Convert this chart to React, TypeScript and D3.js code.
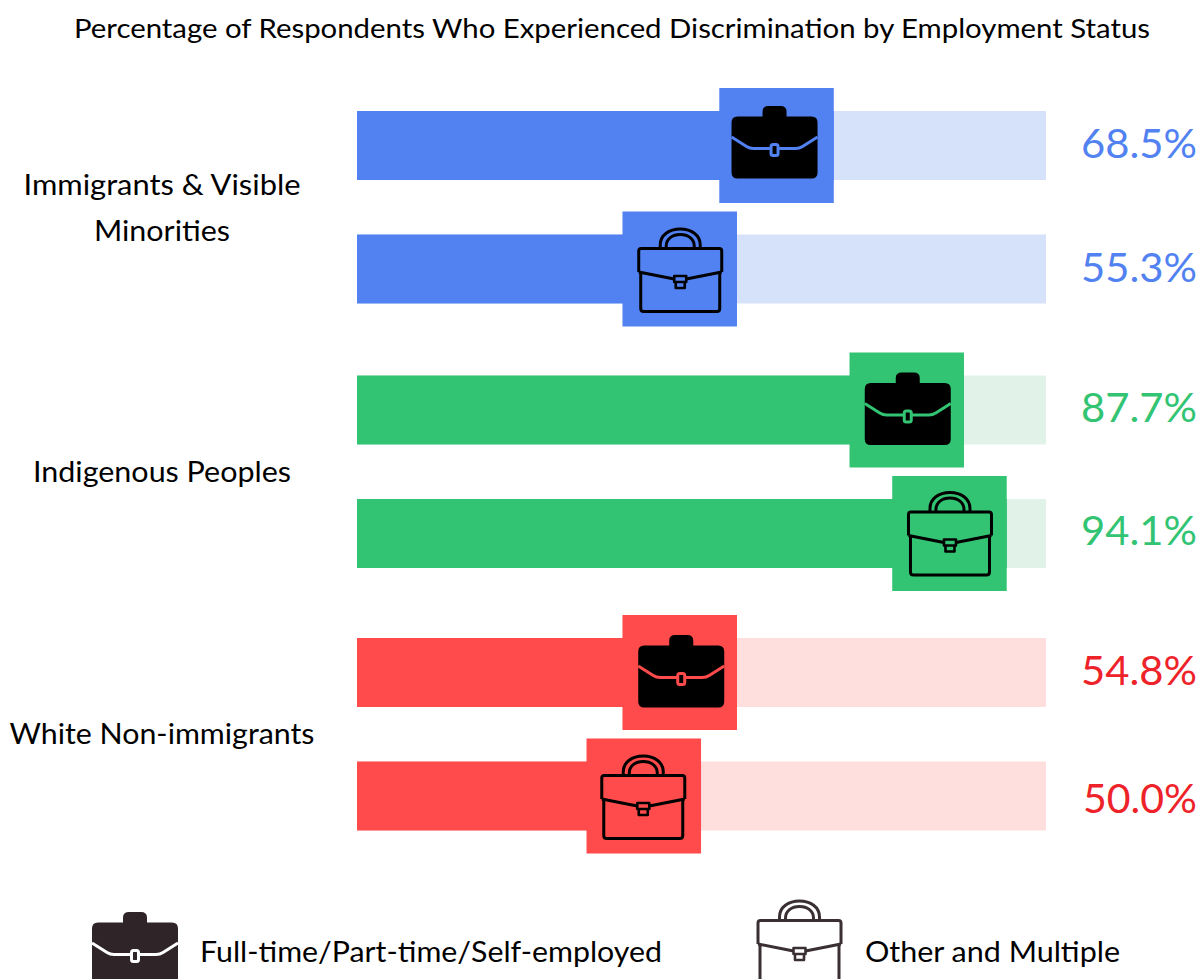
import React from 'react';
import * as d3 from 'd3';

const title = 'Percentage of Respondents Who Experienced Discrimination by Employment Status';
const groups = ['Immigrants & Visible Minorities', 'Indigenous Peoples', 'White Non-immigrants'];
const statuses = ['Full-time/Part-time/Self-employed', 'Other and Multiple'];
const immigrantValues = [68.5, 55.3];
const indigenousValues = [87.7, 94.1];
const whiteValues = [54.8, 50.0];
const seriesValues = [immigrantValues, indigenousValues, whiteValues];
// where the end of each coloured block sits on the 0-100 track
const immigrantEnds = [69.2, 55.15];
const indigenousEnds = [88.1, 94.3];
const whiteEnds = [55.15, 49.93];
const seriesEnds = [immigrantEnds, indigenousEnds, whiteEnds];
const barColors = ['#5282f1', '#33c473', '#ff4b4b'];
const trackColors = ['#d6e2fa', '#e1f3e8', '#ffdede'];
const valueColors = ['#5282f1', '#33c473', '#ee2229'];

const WIDTH = 1202;
const HEIGHT = 979;
const FONT = 'Lato, "Open Sans", sans-serif';

const x = d3.scaleLinear().domain([0, 100]).range([357, 1046]);
const groupY = d3.scaleOrdinal<string, number>().domain(groups).range([145.5, 410, 672.5]);
const rowY = d3.scaleOrdinal<string, number>().domain(statuses).range([0, 123.5]);

const BAR_H = 69;
const SQUARE_W = 114.5;
const SQUARE_H = 115;

// small per-row shifts, the icons are not quite centred in the reference
const iconDx = [[-2, 0.5], [1, 0.5], [1.5, -0.5]];
const iconDy = [[0, 0], [2, -1], [2, 0]];
const valueDy = [[12.5, 12.5], [12, 11.5], [12.5, 17]];

// filled case, origin is the middle of the square
const FilledCase = ({ cx, cy, fill, line }: any) => (
  <g transform={`translate(${cx},${cy})`}>
    <path
      fill={fill}
      d="M-12,-29 L-12,-34 Q-12,-39.5 -6,-39.5 L6,-39.5 Q12,-39.5 12,-34 L12,-29 L37,-29 Q43,-29 43,-23 L43,27 Q43,33 37,33 L-37,33 Q-43,33 -43,27 L-43,-23 Q-43,-29 -37,-29 Z"
    />
    <path fill="none" stroke={line} strokeWidth={3} d="M-43,-8.5 L-28,1 Q-25,3 -21,3 L21,3 Q25,3 28,1 L43,-8.5" />
    <rect x={-3.5} y={-1} width={7} height={11} rx={2} fill={fill} stroke={line} strokeWidth={3} />
  </g>
);

const OutlineCase = ({ cx, cy, stroke }: any) => (
  <g transform={`translate(${cx},${cy})`} fill="none" stroke={stroke} strokeWidth={3} strokeLinejoin="round">
    <path d="M-20,-21 L-20,-24 C-20,-34 -11,-40 0,-40 C11,-40 20,-34 20,-24 L20,-21" />
    <path d="M-14,-21 L-14,-23 C-14,-30 -8,-34.5 0,-34.5 C8,-34.5 14,-30 14,-23 L14,-21" />
    <path d="M-41.5,3 L-41.5,-18 Q-41.5,-20.5 -39,-20.5 L39,-20.5 Q41.5,-20.5 41.5,-18 L41.5,3" />
    <path d="M-41.5,3 L-6,10 M6,10 L41.5,3" />
    <path d="M-39.5,3.5 L-39.5,39.5 Q-39.5,42.5 -36.5,42.5 L36.5,42.5 Q39.5,42.5 39.5,39.5 L39.5,3.5" />
    <path d="M-6,7 L6,7 L6,13 L4.5,13 L4.5,19 L-4.5,19 L-4.5,13 L-6,13 Z M-4.5,13 L4.5,13" strokeWidth={2.6} />
  </g>
);

export default function App() {
  return (
    <svg
      width={WIDTH}
      height={HEIGHT}
      viewBox={`0 0 ${WIDTH} ${HEIGHT}`}
      style={{ position: 'absolute', left: 0, top: 0, display: 'block', background: '#fff' }}
      fontFamily={FONT}
    >
      <text x={612} y={38} textAnchor="middle" fontSize={27.5} fill="#000" textLength={1076} lengthAdjust="spacingAndGlyphs">
        {title}
      </text>

      {groups.map((group, i) => {
        const cy = groupY(group);
        return (
          <g key={group}>
            {statuses.map((status, j) => {
              const value = seriesValues[i][j];
              const yc = cy + rowY(status);
              const right = x(seriesEnds[i][j]);
              const cx = right - SQUARE_W / 2 + iconDx[i][j];
              const iy = yc + iconDy[i][j];
              return (
                <g key={status}>
                  <rect x={x(0)} y={yc - BAR_H / 2} width={x(100) - x(0)} height={BAR_H} fill={trackColors[i]} />
                  <rect x={x(0)} y={yc - BAR_H / 2} width={right - x(0)} height={BAR_H} fill={barColors[i]} />
                  <rect x={right - SQUARE_W} y={yc - SQUARE_H / 2} width={SQUARE_W} height={SQUARE_H} fill={barColors[i]} />
                  {j === 0 ? (
                    <FilledCase cx={cx} cy={iy} fill="#000" line={barColors[i]} />
                  ) : (
                    <OutlineCase cx={cx} cy={iy} stroke="#000" />
                  )}
                  <text
                    x={1197}
                    y={yc + valueDy[i][j]}
                    textAnchor="end"
                    fontSize={41}
                    fill={valueColors[i]}
                    textLength={i === 2 && j === 1 ? 114 : 116}
                    lengthAdjust="spacingAndGlyphs"
                  >
                    {d3.format('.1f')(value)}%
                  </text>
                </g>
              );
            })}
          </g>
        );
      })}

      <g fontSize={29.5} fill="#000" textAnchor="middle">
        <text x={162} y={195} textLength={277} lengthAdjust="spacingAndGlyphs">Immigrants &amp; Visible</text>
        <text x={162} y={241} textLength={136} lengthAdjust="spacingAndGlyphs">Minorities</text>
        <text x={162} y={482} textLength={258} lengthAdjust="spacingAndGlyphs">{groups[1]}</text>
        <text x={162} y={744} textLength={305} lengthAdjust="spacingAndGlyphs">{groups[2]}</text>
      </g>

      <FilledCase cx={135} cy={951.5} fill="#2f2528" line="#fff" />
      <text x={200} y={962} fontSize={29.5} fill="#000" textLength={462} lengthAdjust="spacingAndGlyphs">{statuses[0]}</text>
      <OutlineCase cx={799.5} cy={941} stroke="#3a2f32" />
      <text x={865} y={962} fontSize={29.5} fill="#000" textLength={255} lengthAdjust="spacingAndGlyphs">{statuses[1]}</text>
    </svg>
  );
}
